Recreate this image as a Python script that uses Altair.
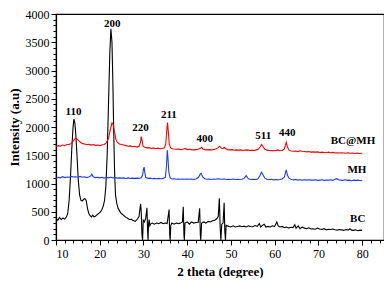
import altair as alt
import pandas as pd

# ---------------- data ----------------
bc_x = [10.0,10.4,10.8,11.2,11.6,12.0,12.4,12.7,13.0,13.3,13.6,13.9,14.1,14.3,14.5,14.8,15.1,15.4,15.7,16.0,16.3,16.6,16.9,17.2,17.5,17.8,18.1,18.4,18.7,19.0,19.3,19.6,19.9,20.2,20.5,20.8,21.1,21.4,21.7,22.0,22.3,22.55,22.8,23.0,23.2,23.4,23.6,23.9,24.2,24.5,24.8,25.1,25.4,25.7,26.0,26.3,26.6,26.9,27.2,27.5,27.8,28.1,28.4,28.7,29.0,29.2,29.35,29.5,29.65,29.8,29.95,30.2,30.5,30.8,30.95,31.05,31.15,31.3,31.45,31.7,32.0,32.5,33.0,33.5,34.0,34.5,35.0,35.4,35.7,35.85,36.0,36.1,36.25,36.5,37.0,37.5,38.0,38.5,38.9,39.1,39.25,39.35,39.5,40.0,40.5,41.0,41.5,42.0,42.5,42.85,43.0,43.1,43.3,43.8,44.3,44.8,45.3,45.8,46.3,46.8,47.1,47.35,47.55,47.7,47.9,48.2,48.45,48.6,48.75,48.9,49.2,49.6,50.0,50.5,51.0,51.5,52.0,52.5,53.0,53.5,54.0,54.5,55.0,55.5,56.0,56.5,56.8,57.2,57.6,58.0,58.5,59.0,59.5,60.0,60.5,60.8,61.2,61.7,62.2,62.7,63.2,63.7,64.2,64.6,64.9,65.4,65.8,66.3,66.8,67.3,67.8,68.3,68.8,69.3,69.8,70.3,70.8,71.3,71.8,72.3,72.8,73.3,73.8,74.3,74.8,75.3,75.8,76.3,76.8,77.2,77.6,78.0,78.5,79.0,79.5,80.0]
bc_y = [390,350,400,360,390,370,410,480,700,1100,1600,2000,2140,2080,1900,1500,1050,800,700,690,720,730,700,560,470,430,410,440,410,420,440,460,480,500,540,600,700,950,1500,2400,3300,3740,3500,2800,1900,1200,800,650,560,520,480,460,440,420,400,390,370,360,370,350,340,330,350,380,420,560,640,480,100,0,350,320,380,570,150,0,280,360,250,290,300,280,300,290,310,290,300,290,450,540,100,0,260,300,280,300,290,300,320,590,100,0,300,320,280,320,300,310,310,560,100,0,300,320,300,330,320,340,350,380,420,740,200,0,280,300,660,150,0,260,250,240,230,250,230,240,250,235,245,230,250,240,235,255,240,290,230,260,280,230,240,230,250,240,320,250,230,240,220,230,210,225,220,270,210,250,200,230,210,200,215,195,200,190,210,195,185,200,180,190,185,195,180,175,185,180,170,185,175,200,175,170,180,165,175,170]

mh_x = [10.0,10.5,11.0,11.5,12.0,12.5,13.0,13.5,14.0,14.5,15.0,15.5,16.0,16.5,17.0,17.5,18.0,18.2,18.5,19.0,19.5,20.0,20.5,21.0,21.5,22.0,22.5,23.0,23.5,24.0,24.5,25.0,25.5,26.0,26.5,27.0,27.5,28.0,28.5,29.0,29.5,29.8,30.0,30.15,30.3,30.5,31.0,31.5,32.0,32.5,33.0,33.5,34.0,34.5,35.0,35.25,35.45,35.6,35.8,36.1,36.5,37.0,37.5,38.0,38.5,39.0,39.5,40.0,40.5,41.0,41.5,42.0,42.6,43.0,43.2,43.5,44.0,44.5,45.0,45.5,46.0,46.5,47.0,47.5,48.0,48.5,49.0,49.5,50.0,50.5,51.0,51.5,52.0,52.5,53.0,53.5,53.8,54.2,54.7,55.2,55.7,56.2,56.7,57.0,57.3,57.7,58.2,58.7,59.2,59.7,60.2,60.7,61.2,61.7,62.2,62.5,62.65,62.9,63.3,63.8,64.3,64.8,65.3,65.8,66.3,66.8,67.3,67.8,68.3,68.8,69.3,69.8,70.3,70.8,71.3,71.8,72.3,72.8,73.3,73.8,74.2,74.6,75.1,75.6,76.1,76.6,77.1,77.6,78.1,78.6,79.1,79.6,80.0]
mh_y = [1090,1110,1100,1120,1105,1115,1110,1125,1115,1120,1110,1125,1110,1120,1105,1115,1140,1165,1120,1105,1110,1100,1110,1095,1105,1100,1110,1100,1105,1095,1100,1095,1100,1090,1100,1090,1095,1090,1095,1090,1100,1150,1260,1290,1200,1110,1090,1095,1085,1090,1085,1090,1085,1090,1110,1300,1590,1450,1200,1100,1080,1085,1075,1080,1075,1080,1075,1080,1075,1080,1070,1080,1110,1170,1180,1120,1085,1075,1080,1070,1080,1075,1085,1080,1075,1080,1070,1075,1070,1080,1070,1075,1070,1075,1090,1140,1100,1075,1070,1075,1070,1085,1150,1200,1160,1100,1075,1070,1075,1065,1070,1065,1070,1080,1110,1200,1240,1150,1090,1070,1065,1070,1060,1065,1060,1065,1060,1065,1060,1060,1065,1055,1060,1065,1055,1060,1060,1065,1055,1075,1085,1065,1060,1055,1065,1055,1060,1050,1060,1055,1060,1050,1055]

bcmh_x = [10.0,10.5,11.0,11.5,12.0,12.5,13.0,13.5,14.0,14.4,14.8,15.2,15.6,16.0,16.5,17.0,17.5,18.0,18.5,19.0,19.5,20.0,20.5,21.0,21.5,22.0,22.4,22.8,23.1,23.4,23.7,24.0,24.5,25.0,25.5,26.0,26.5,27.0,27.5,28.0,28.5,29.0,29.3,29.5,29.7,29.9,30.3,30.8,31.3,31.8,32.3,32.8,33.3,33.8,34.3,34.8,35.1,35.35,35.5,35.7,35.9,36.2,36.6,37.0,37.5,38.0,38.5,39.0,39.5,40.0,40.5,41.0,41.5,42.0,42.5,43.0,43.3,43.6,44.0,44.5,45.0,45.5,46.0,46.5,47.0,47.4,47.8,48.2,48.5,48.8,49.3,49.8,50.3,50.8,51.3,51.8,52.3,52.8,53.3,53.8,54.3,54.8,55.3,55.8,56.3,56.7,57.0,57.3,57.7,58.2,58.7,59.2,59.7,60.2,60.7,61.2,61.7,62.2,62.45,62.65,62.9,63.3,63.8,64.3,64.8,65.3,65.8,66.3,66.8,67.3,67.8,68.3,68.8,69.3,69.8,70.3,70.8,71.3,71.8,72.3,72.8,73.3,73.8,74.3,74.8,75.3,75.8,76.3,76.8,77.3,77.8,78.3,78.8,79.3,80.0]
bcmh_y = [1650,1670,1660,1680,1670,1690,1690,1710,1760,1800,1790,1760,1730,1710,1700,1690,1695,1680,1690,1675,1680,1670,1680,1690,1720,1800,1950,2075,2040,1900,1780,1730,1700,1690,1680,1670,1660,1665,1650,1660,1645,1660,1720,1830,1760,1660,1640,1630,1635,1620,1630,1615,1625,1615,1620,1630,1700,1950,2080,1900,1700,1630,1615,1610,1605,1610,1600,1605,1620,1600,1605,1600,1595,1600,1605,1625,1640,1610,1600,1595,1600,1595,1600,1610,1630,1660,1625,1620,1640,1615,1600,1595,1600,1590,1595,1590,1595,1585,1590,1595,1585,1590,1585,1595,1610,1650,1690,1660,1610,1590,1585,1580,1585,1580,1595,1580,1585,1610,1680,1730,1650,1590,1575,1570,1575,1565,1580,1570,1565,1560,1565,1555,1560,1555,1560,1550,1555,1550,1545,1555,1545,1550,1540,1545,1540,1545,1540,1535,1545,1535,1540,1530,1540,1530,1535]

series_names = ["BC", "MH", "BC@MH"]
series_colors = ["#000000", "#1f3dff", "#ff0000"]

peak_labels = ["110", "200", "220", "211", "400", "511", "440"]
peak_x = [14.0, 22.85, 29.3, 35.8, 44.0, 57.4, 62.9]
peak_y = [2270, 3830, 1980, 2220, 1780, 1840, 1900]

name_labels = ["BC@MH", "MH", "BC"]
name_x = [77.9, 78.8, 79.0]
name_y = [1760, 1240, 370]

x_major = [10, 20, 30, 40, 50, 60, 70, 80]
x_minor = list(range(10, 86, 2))
y_major = [0, 500, 1000, 1500, 2000, 2500, 3000, 3500, 4000]
y_minor = list(range(0, 4001, 100))

# ---------------- tables ----------------
rows = []
for name, xs, ys in [("BC", bc_x, bc_y), ("MH", mh_x, mh_y), ("BC@MH", bcmh_x, bcmh_y)]:
    for i, (a, b) in enumerate(zip(xs, ys)):
        rows.append({"series": name, "theta": a, "intensity": b, "order": i})
df = pd.DataFrame(rows)
peaks = pd.DataFrame({"label": peak_labels, "theta": peak_x, "intensity": peak_y})
names = pd.DataFrame({"label": name_labels, "theta": name_x, "intensity": name_y})

FONT = "Liberation Serif"
xscale = alt.Scale(domain=[10, 85], nice=False, zero=False)
yscale = alt.Scale(domain=[0, 4000], nice=False)

lines = alt.Chart(df).mark_line(strokeWidth=1.1, clip=True).encode(
    x=alt.X("theta:Q", scale=xscale,
            axis=alt.Axis(values=x_major, title="2 theta (degree)", orient="bottom",
                          tickSize=5, tickColor="black", domainColor="black",
                          labelFont=FONT, labelFontSize=12, labelColor="black",
                          titleFont=FONT, titleFontSize=13, titleFontWeight="bold",
                          titleColor="black", titlePadding=6, grid=False, labelPadding=3)),
    y=alt.Y("intensity:Q", scale=yscale,
            axis=alt.Axis(values=y_major, title="Intensity (a.u)", orient="left", format="d",
                          tickSize=5, tickColor="black", domainColor="black",
                          labelFont=FONT, labelFontSize=12, labelColor="black",
                          titleFont=FONT, titleFontSize=13, titleFontWeight="bold",
                          titleColor="black", titlePadding=4, grid=False)),
    color=alt.Color("series:N", scale=alt.Scale(domain=series_names, range=series_colors), legend=None),
    order="order:Q",
    detail="series:N",
)

minor = alt.Chart(df).mark_line(strokeOpacity=0).encode(
    x=alt.X("theta:Q", scale=xscale,
            axis=alt.Axis(values=x_minor, labels=False, title=None, orient="bottom", domain=False,
                          tickSize=3, tickColor="black", grid=False)),
    y=alt.Y("intensity:Q", scale=yscale,
            axis=alt.Axis(values=y_minor, labels=False, title=None, orient="left", domain=False,
                          tickSize=3, tickColor="black", grid=False)),
    detail="series:N",
)

peak_text = alt.Chart(peaks).mark_text(font=FONT, fontSize=11, fontWeight="bold", color="black").encode(
    x=alt.X("theta:Q", scale=xscale, axis=None),
    y=alt.Y("intensity:Q", scale=yscale, axis=None), text="label:N")
name_text = alt.Chart(names).mark_text(font=FONT, fontSize=11, fontWeight="bold", color="black").encode(
    x=alt.X("theta:Q", scale=xscale, axis=None),
    y=alt.Y("intensity:Q", scale=yscale, axis=None), text="label:N")

chart = alt.layer(lines, minor, peak_text, name_text).resolve_axis(
    x="independent", y="independent"
).properties(
    width=376, height=270, padding=0,
    autosize=alt.AutoSizeParams(type="fit", contains="padding"),
).configure_view(stroke="black", strokeWidth=1.2).configure_axis(domainWidth=1.2)

chart.save("out.html", embed_options={"renderer": "svg", "actions": False})
